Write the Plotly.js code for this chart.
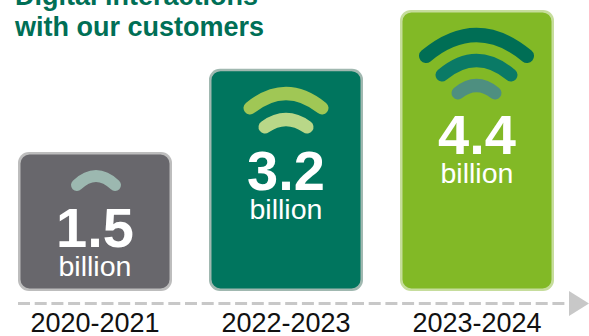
<!DOCTYPE html>
<html>
<head>
<meta charset="utf-8">
<script src="https://cdn.plot.ly/plotly-3.0.0.min.js"></script>
<style>
html,body{margin:0;padding:0;background:#fff}
#chart{width:589px;height:336px}
/* the signal arcs end in round caps; the dashed timeline keeps square dashes */
.shapelayer path:not([style*="dasharray"]){stroke-linecap:round}
</style>
</head>
<body>
<div id="chart"></div>
<script>
// Digital interactions per period
const periods = ['2020-2021', '2022-2023', '2023-2024'];
const interactions = [1.5, 3.2, 4.4];
const unitLabel = 'billion';
const titleLines = ['Digital interactions', 'with our customers'];

const fillColors = ['#68676c', '#00755e', '#82b926'];
const edgeColors = ['#bdbdbd', '#a0b8b0', '#c6dd9c'];

// Axis set-up: the bars stand on a floor below zero
const W = 589, H = 336, plotH = 304;
const pxPerUnit = 49, floorValue = -1.337, floorPx = 291;
const yAt = px => floorValue + (floorPx - px) / pxPerUnit;
const pxPerCat = 191, cat0Px = 95;

// A bar with an explicit base gets rounded corners at both ends
const edge = 2.5 / pxPerUnit;
function barLayer(colors, barWidth, radius, inset) {
  return {
    type: 'bar',
    x: periods.map((_, i) => i),
    y: interactions.map(v => v - floorValue - 2 * inset),
    base: periods.map(() => floorValue + inset),
    width: barWidth,
    marker: {color: colors, line: {width: 0}, cornerradius: radius},
    hoverinfo: 'skip',
    showlegend: false
  };
}

// Signal icons above the figures, in pixels: left/right end x, end y, apex y
const arcs = [
  {x0: 77,  x1: 115, yEnd: 185, yTop: 176, w: 12, color: '#9cb8b0'},
  {x0: 250, x1: 322, yEnd: 108, yTop: 93.5, w: 13, color: '#a0c755'},
  {x0: 265, x1: 307, yEnd: 127, yTop: 119.5, w: 13, color: '#b9d788'},
  {x0: 426, x1: 527, yEnd: 56, yTop: 35, w: 14, color: '#006e55'},
  {x0: 442, x1: 511, yEnd: 75, yTop: 60.5, w: 13, color: '#0a7a66'},
  {x0: 458, x1: 495, yEnd: 93, yTop: 85.5, w: 13, color: '#4e8f80'}
];
const px = x => (x / W).toFixed(5);
const py = y => (1 - y / plotH).toFixed(5);
const arcShapes = arcs.map(a => ({
  type: 'path', xref: 'paper', yref: 'paper',
  path: `M${px(a.x0)},${py(a.yEnd)} Q${px((a.x0 + a.x1) / 2)},${py(2 * a.yTop - a.yEnd)} ${px(a.x1)},${py(a.yEnd)}`,
  line: {color: a.color, width: a.w}
}));

// Timeline along the bottom
const timeline = [
  {type: 'line', xref: 'paper', yref: 'paper', x0: px(18), x1: px(571), y0: py(303.5), y1: py(303.5),
   line: {color: '#c8c8c8', width: 3, dash: '12px,4.7px'}},
  {type: 'path', xref: 'paper', yref: 'paper',
   path: `M${px(569)},${py(291)} L${px(589)},${py(303.5)} L${px(569)},${py(316)} Z`,
   fillcolor: '#c8c8c8', line: {color: '#c8c8c8', width: 0}}
];

// Figure and unit share one label; its line pitch comes from the base font size
const labelCentreY = [239, 182, 146];
const annotations = interactions.map((v, i) => ({
  x: i, xref: 'x', y: yAt(labelCentreY[i]), yref: 'y', xanchor: 'center', yanchor: 'middle',
  text: `<span style="font-size:56px"><b>${v.toFixed(1)}</b></span><br><span style="font-size:28.5px">${unitLabel}</span>`,
  showarrow: false,
  font: {family: 'Liberation Sans', size: 22.5, color: '#ffffff'}
}));

const layout = {
  width: W, height: H,
  margin: {l: 0, r: 0, t: 0, b: H - plotH, pad: 0},
  paper_bgcolor: '#ffffff', plot_bgcolor: 'rgba(0,0,0,0)',
  barmode: 'overlay',
  showlegend: false,
  title: {
    text: titleLines.map(t => `<span style="font-size:27px"><b>${t}</b></span>`).join('<br>'),
    x: 15 / W, xanchor: 'left', y: 1 - 5 / H, yanchor: 'bottom', yref: 'container',
    font: {family: 'Liberation Sans', size: 24, color: '#006f56'}
  },
  xaxis: {
    range: [-cat0Px / pxPerCat, (W - cat0Px) / pxPerCat],
    tickmode: 'array', tickvals: [0, 1, 2], ticktext: periods,
    ticks: '', showgrid: false, zeroline: false, showline: false, fixedrange: true,
    tickfont: {family: 'Liberation Sans', size: 27, color: '#111111'}
  },
  yaxis: {
    range: [yAt(plotH), yAt(0)], visible: false, fixedrange: true
  },
  shapes: arcShapes.concat(timeline),
  annotations: annotations
};

Plotly.newPlot('chart', [
  barLayer(edgeColors, 154 / pxPerCat, 11, 0),
  barLayer(fillColors, 149 / pxPerCat, 9, edge)
], layout, {displayModeBar: false, staticPlot: true});
</script>
</body>
</html>
